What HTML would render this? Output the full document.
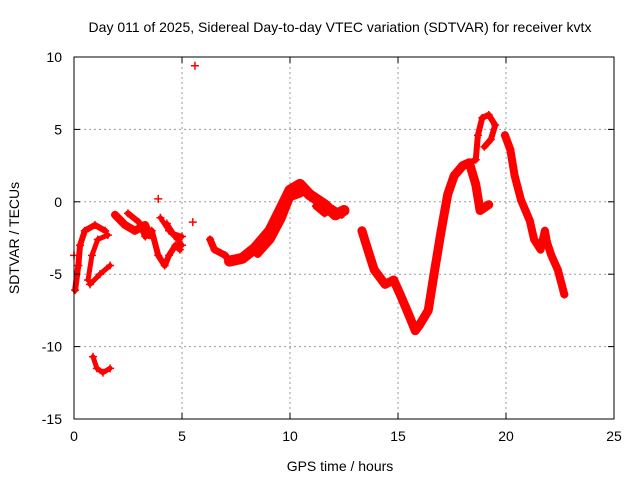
<!DOCTYPE html>
<html><head><meta charset="utf-8"><style>
body{margin:0;background:#fff;}
svg{display:block;font-family:"Liberation Sans",sans-serif;}
</style></head><body>
<svg id="chart" width="640" height="480" viewBox="0 0 640 480">
<text x="340" y="32" font-size="14" text-anchor="middle">Day 011 of 2025, Sidereal Day-to-day VTEC variation (SDTVAR) for receiver kvtx</text>
<text x="340" y="471" font-size="14" text-anchor="middle">GPS time / hours</text>
<text x="19" y="238" font-size="14" text-anchor="middle" transform="rotate(-90 19 238)">SDTVAR / TECUs</text>
<g id="grid"></g>
<g id="marks"></g>
<rect x="74" y="57" width="540" height="362" fill="none" stroke="#000" stroke-width="1"/>
<g id="axes"></g>
</svg>
<script>
const xTicks=[0,5,10,15,20,25];
const yTicks=[10,5,0,-5,-10,-15];
const traceA=[[7.2,-4.1],[7.8,-3.9],[8.38,-3.2],[9.07,-2.0],[9.54,-0.6],[10,0.8],[10.46,1.2],[10.9,0.5],[11.6,-0.2],[12.1,-0.9],[12.5,-0.6]];
const traceA2=[[8.5,-3.6],[9.1,-2.6],[9.6,-1.2],[10.0,0.3],[10.5,0.6]];
const traceA3=[[11.2,-0.3],[11.6,-0.8],[12.0,-0.5],[12.4,-0.9]];
const traceB=[[13.33,-2],[13.6,-3.3],[13.9,-4.7],[14.4,-5.7],[14.8,-5.4],[15.1,-6.4],[15.5,-7.8],[15.8,-8.9],[16,-8.5],[16.4,-7.5],[16.7,-4.7],[17.0,-2],[17.3,0.5],[17.6,1.8],[18,2.5],[18.3,2.7],[18.6,1.2],[18.8,-0.6],[19.2,-0.2]];
const traceB2=[[18.3,2.7],[18.6,2.9],[18.7,4.6],[18.9,5.8],[19.2,6],[19.5,5.3],[19.3,4.3],[19.0,3.8]];
const traceC=[[19.95,4.6],[20.2,3.6],[20.4,1.8],[20.7,0.1],[21.1,-1.3],[21.3,-2.6],[21.6,-3.3],[21.8,-2],[21.9,-2.8],[22.1,-3.7],[22.4,-4.7],[22.7,-6.4]];
const traceD1=[[0.05,-6.1],[0.2,-4.4],[0.28,-3],[0.5,-2],[0.97,-1.6],[1.44,-2]];
const traceD2=[[0.65,-5.4],[0.83,-3.7],[1.1,-2.6],[1.57,-2.3]];
const traceD3=[[0.74,-5.7],[1.2,-5],[1.67,-4.4]];
const traceD4=[[0.88,-10.7],[1.06,-11.5],[1.34,-11.8],[1.67,-11.5]];
const traceE=[[1.9,-0.9],[2.36,-1.6],[2.82,-2],[3.29,-1.6],[3.5,-2.3]];
const traceE2=[[2.5,-0.8],[3.0,-1.4],[3.3,-2.4]];
const traceF=[[3.6,-2],[3.9,-3.7],[4.2,-4.4],[4.4,-3.7],[4.7,-3],[4.9,-3.3]];
const traceF2=[[4.0,-1.1],[4.4,-2],[4.8,-2.6],[5.0,-3.0]];
const traceF3=[[4.3,-1.5],[4.6,-2.2],[5.0,-2.4]];
const traceG=[[6.3,-2.6],[6.5,-3.3],[7.0,-3.7],[7.2,-4.1]];
const isolated=[[3.9,0.2],[5.6,9.4],[5.5,-1.4],[0.0,-3.7]];
const traces=[[traceA,11],[traceA2,8],[traceA3,7],[traceB,9],[traceB2,6],[traceC,8],[traceD1,6],[traceD2,5],[traceD3,5],[traceD4,5],[traceE,8],[traceE2,6],[traceF,6],[traceF2,5],[traceF3,5],[traceG,7]];

const NS="http://www.w3.org/2000/svg";
const X=t=>74+t*21.6;
const Y=v=>201.8-v*14.48;
const grid=document.getElementById('grid'),axes=document.getElementById('axes'),marks=document.getElementById('marks');
function mk(tag,attrs,parent){const e=document.createElementNS(NS,tag);for(const k in attrs)e.setAttribute(k,attrs[k]);parent.appendChild(e);return e;}
xTicks.forEach(t=>{
 if(t>0&&t<25){const g=mk('line',{x1:X(t),x2:X(t),y1:57,y2:419,stroke:'#999','stroke-dasharray':'2,3'},grid);
 
 }
 const l=mk('text',{x:X(t),y:441,'font-size':14,'text-anchor':'middle'},axes);l.textContent=t;
 
 
 mk('line',{x1:X(t),x2:X(t),y1:419,y2:413,stroke:'#000'},axes);
 mk('line',{x1:X(t),x2:X(t),y1:57,y2:63,stroke:'#000'},axes);
});
yTicks.forEach(v=>{
 if(v<10&&v>-15){const g=mk('line',{x1:74,x2:614,y1:Y(v),y2:Y(v),stroke:'#999','stroke-dasharray':'2,3'},grid);
 
 }
 const l=mk('text',{x:62,y:Y(v)+5,'font-size':14,'text-anchor':'end'},axes);l.textContent=v;
 
 
 mk('line',{x1:74,x2:80,y1:Y(v),y2:Y(v),stroke:'#000'},axes);
 mk('line',{x1:614,x2:608,y1:Y(v),y2:Y(v),stroke:'#000'},axes);
});
function plus(t,v){
 const p=mk('path',{d:`M${X(t)-4},${Y(v)}h8M${X(t)},${Y(v)-4}v8`,stroke:'#f00','stroke-width':1.5,fill:'none'},marks);
 
 
}
traces.forEach(([tr,w])=>{
 const pl=mk('polyline',{points:tr.map(p=>X(p[0])+','+Y(p[1])).join(' '),fill:'none',stroke:'#f00','stroke-width':w,'stroke-linejoin':'round','stroke-linecap':'round'},marks);
 
 
 tr.forEach(p=>plus(p[0],p[1]));
});
isolated.forEach(p=>plus(p[0],p[1]));
</script>
</body></html>
